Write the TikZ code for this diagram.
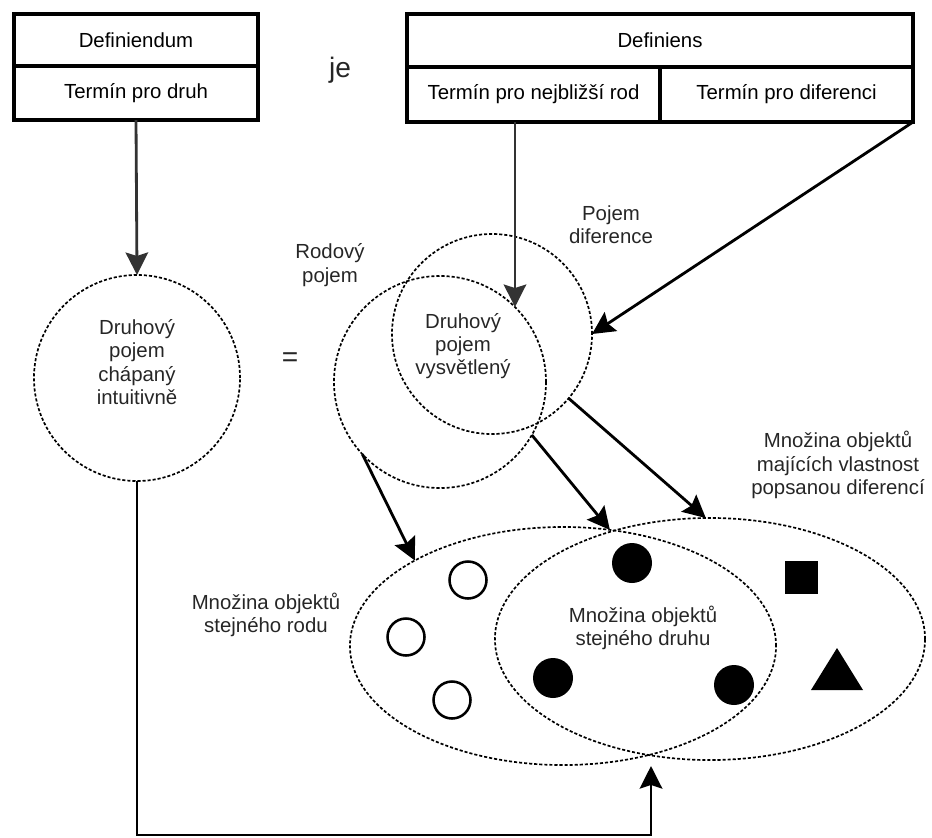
\documentclass[tikz,border=0pt]{standalone}
\usepackage{fontspec}
\setmainfont{Liberation Sans}
\usetikzlibrary{arrows.meta,shapes.geometric}
\newcommand{\diafont}{\fontsize{14.5}{16.5}\selectfont}
\newcommand{\bigfont}{\fontsize{20}{22}\selectfont}

\begin{document}
\begin{tikzpicture}[x=0.025cm,y=-0.025cm,
  cell/.style={draw,line width=2.4pt,inner sep=0pt,outer sep=0pt,font=\diafont},
  dotline/.style={draw,line width=1.2pt,dash pattern=on 2.2pt off 1.4pt},
  setcirc/.style={dotline,circle,inner sep=0pt,outer sep=0pt},
  setoval/.style={dotline,ellipse,inner sep=0pt,outer sep=0pt},
  txt/.style={align=center,font=\diafont,text=black!85},
  arr/.style={-{Stealth[length=16pt,width=16pt,inset=2.5pt]},line width=2pt}]
\useasboundingbox (0,0) rectangle (932,837);

%%Definiendum
\node[cell,minimum width=6.1cm,minimum height=1.3cm] (dfd) at (136,40) {Definiendum};
\node[cell,minimum width=6.1cm,minimum height=1.35cm] (dfdterm) at (136,93) {Termín pro druh};

\node[font=\bigfont,text=black!85] (je) at (340,70) {je};

%%Definiens
\node[cell,minimum width=12.65cm,minimum height=1.325cm] (dfs) at (660,40.5) {Definiens};
\node[cell,minimum width=6.325cm,minimum height=1.375cm] (rodterm) at (533.5,94.5) {Termín pro nejbližší rod};
\node[cell,minimum width=6.325cm,minimum height=1.375cm] (difterm) at (786.5,94.5) {Termín pro diferenci};

%%Circles
\node[setcirc,minimum size=5.15cm] (intuit) at (137,378) {};
\node[txt] at (137,362) {Druhový\\pojem\\chápaný\\intuitivně};
\node[font=\bigfont,text=black!85] (eq) at (290,360) {=};

\node[setcirc,minimum size=5.3cm] (rod) at (440,382) {};
\node[setcirc,minimum size=5cm] (dif) at (492,334) {};
\node[txt] (rodlbl) at (330,265) {Rodový\\pojem};
\node[txt] (diflbl) at (611,225) {Pojem\\diference};
\node[txt] (vysv) at (463,346) {Druhový\\pojem\\vysvětlený};

%%Sets
\node[setoval,minimum width=10.65cm,minimum height=5.95cm] (genset) at (563,646) {};
\node[setoval,minimum width=10.75cm,minimum height=6.05cm] (difset) at (710,639) {};
\node[txt] at (266,615) {Množina objektů\\stejného rodu};
\node[txt] at (643,628) {Množina objektů\\stejného druhu};
\node[txt] at (838,465) {Množina objektů\\majících vlastnost\\popsanou diferencí};

%%Objects
\foreach \p in {(468,580),(406,637),(452,700)}
  \draw[line width=1.8pt] \p circle (18.5);
\foreach \p in {(632,563),(553,678),(734,685)}
  \fill \p circle (20);
\fill (784.5,560.5) rectangle (817.5,593.5);
\fill (837,648) -- (863,690) -- (811,690) -- cycle;

%%Arrows
\draw[arr,black!80] (dfdterm.south) -- (intuit.north);
\draw[arr,black!80] (rodterm.south -| rod.45) -- (rod.45);
\draw[arr] (difterm.south east) -- (dif.east);
\draw[arr] (rod.-137) -- (genset.150);
\draw[arr] (rod.-30) -- (genset.68);
\draw[arr] (dif.-40) -- (difset.92);

\coordinate (meet) at (651,766);
\coordinate (low) at (651,835);
\draw[arr] (intuit.south) |- (low) -- (meet);
\end{tikzpicture}
\end{document}
